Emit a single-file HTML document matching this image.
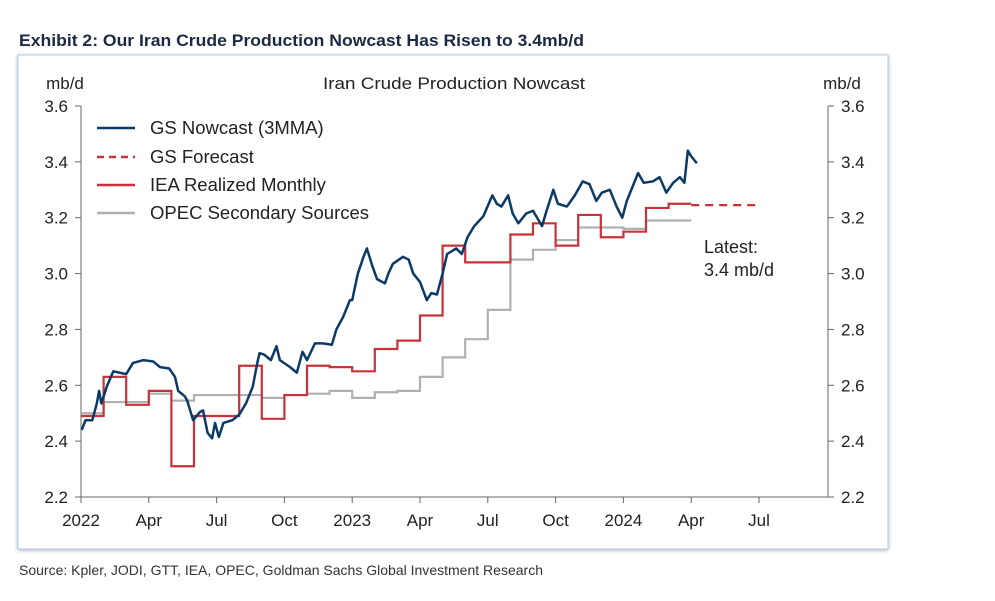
<!DOCTYPE html>
<html><head><meta charset="utf-8"><style>
html,body{margin:0;padding:0;background:#fff;}
svg{display:block;font-family:"Liberation Sans",Arial,sans-serif;}
</style></head><body>
<svg id="chart" width="995" height="601" viewBox="0 0 995 601" xmlns="http://www.w3.org/2000/svg">
<defs><filter id="sh" x="-5%" y="-5%" width="110%" height="110%"><feDropShadow dx="0" dy="1" stdDeviation="2" flood-color="#7f9cbf" flood-opacity="0.7"/></filter></defs>
<text x="19" y="46" font-size="17" font-weight="bold" fill="#1b2a44" textLength="565" lengthAdjust="spacingAndGlyphs">Exhibit 2: Our Iran Crude Production Nowcast Has Risen to 3.4mb/d</text>
<rect x="18" y="55" width="870" height="494" fill="#fff" stroke="#b8c9dc" stroke-width="1" filter="url(#sh)"/>
<text x="323" y="89" font-size="17" fill="#222" textLength="262" lengthAdjust="spacingAndGlyphs">Iran Crude Production Nowcast</text>
<text x="65" y="89" font-size="17" text-anchor="middle" fill="#222">mb/d</text>
<text x="842" y="89" font-size="17" text-anchor="middle" fill="#222">mb/d</text>
<g id="axes"></g>
<g id="series"></g>
<g>
<line x1="97" y1="128" x2="135" y2="128" stroke="#0c3a66" stroke-width="2.5"/>
<text x="150" y="134" font-size="18.5" fill="#222">GS Nowcast (3MMA)</text>
<line x1="97" y1="157" x2="135" y2="157" stroke="#c8323a" stroke-width="2.5" stroke-dasharray="7,5"/>
<text x="150" y="163" font-size="18.5" fill="#222">GS Forecast</text>
<line x1="97" y1="185" x2="135" y2="185" stroke="#c8323a" stroke-width="2.5"/>
<text x="150" y="191" font-size="18.5" fill="#222">IEA Realized Monthly</text>
<line x1="97" y1="213" x2="135" y2="213" stroke="#b0b0b0" stroke-width="2.5"/>
<text x="150" y="219" font-size="18.5" fill="#222">OPEC Secondary Sources</text>
</g>
<text x="704" y="253" font-size="18" fill="#222"><tspan x="704">Latest:</tspan><tspan x="704" dy="23">3.4 mb/d</tspan></text>
<text x="19" y="575" font-size="14" fill="#333" textLength="524" lengthAdjust="spacingAndGlyphs">Source: Kpler, JODI, GTT, IEA, OPEC, Goldman Sachs Global Investment Research</text>
</svg>
<script>
// month index 0 = Jan 2022
const yTicks = [2.2, 2.4, 2.6, 2.8, 3.0, 3.2, 3.4, 3.6];
const xTickMonths = [0, 3, 6, 9, 12, 15, 18, 21, 24, 27, 30];
const xTickLabels = ["2022","Apr","Jul","Oct","2023","Apr","Jul","Oct","2024","Apr","Jul"];
const ieaMonthly = [2.49,2.63,2.53,2.58,2.31,2.49,2.49,2.67,2.48,2.565,2.67,2.665,2.65,2.73,2.76,2.85,3.10,3.04,3.04,3.14,3.18,3.10,3.21,3.13,3.15,3.235,3.25];
const opecMonthly = [2.50,2.54,2.54,2.57,2.545,2.565,2.565,2.565,2.555,2.565,2.57,2.58,2.555,2.575,2.58,2.63,2.70,2.765,2.87,3.05,3.085,3.12,3.165,3.165,3.16,3.19,3.19];
const forecastMonths = [27, 30];
const forecastValues = [3.245, 3.245];
const nowcastMonths = [0.03,0.2,0.5,0.7,0.8,0.9,1.14,1.43,2.0,2.3,2.75,3.2,3.5,3.9,4.16,4.3,4.6,4.7,4.96,5.27,5.4,5.6,5.8,5.93,6.1,6.3,6.7,7.0,7.3,7.6,7.8,7.9,8.1,8.4,8.65,8.8,9.25,9.55,9.8,10.0,10.35,10.7,11.1,11.3,11.6,11.9,12.0,12.25,12.5,12.65,12.9,13.1,13.45,13.6,13.8,14.25,14.5,14.7,15.0,15.3,15.5,15.75,16.0,16.2,16.6,16.85,17.1,17.4,17.8,18.2,18.4,18.6,18.9,19.1,19.35,19.7,20.0,20.4,20.6,20.9,21.1,21.5,21.85,22.2,22.5,22.8,23.05,23.4,23.7,23.95,24.15,24.4,24.65,24.9,25.3,25.6,25.9,26.2,26.5,26.7,26.85,27.0,27.25];
const nowcastValues = [2.44,2.475,2.475,2.535,2.58,2.535,2.595,2.65,2.64,2.68,2.69,2.685,2.665,2.66,2.63,2.58,2.56,2.545,2.475,2.505,2.51,2.43,2.41,2.465,2.415,2.465,2.475,2.495,2.535,2.595,2.68,2.715,2.71,2.69,2.74,2.69,2.665,2.645,2.72,2.69,2.75,2.75,2.745,2.80,2.845,2.905,2.905,3.00,3.06,3.09,3.025,2.98,2.965,3.0,3.035,3.06,3.05,3.0,2.97,2.905,2.93,2.925,3.0,3.07,3.09,3.07,3.13,3.17,3.205,3.28,3.25,3.24,3.28,3.215,3.18,3.215,3.225,3.17,3.225,3.30,3.25,3.24,3.28,3.33,3.32,3.26,3.29,3.30,3.24,3.20,3.26,3.31,3.36,3.325,3.33,3.345,3.29,3.325,3.345,3.325,3.44,3.42,3.395];

const X0 = 81, MW = 22.6, XR = 828, YB = 497, YT = 106, VMIN = 2.2, VMAX = 3.6;
const xs = m => X0 + m * MW;
const ys = v => YB - (v - VMIN) / (VMAX - VMIN) * (YB - YT);
const NS = "http://www.w3.org/2000/svg";
function mk(tag, attrs, parent) {
  const e = document.createElementNS(NS, tag);
  for (const k in attrs) e.setAttribute(k, attrs[k]);
  parent.appendChild(e);
  return e;
}
const axes = document.getElementById('axes');
const series = document.getElementById('series');
let el;
el = mk('line', {x1:X0, y1:YT, x2:X0, y2:YB, stroke:'#666', 'stroke-width':1}, axes);


el = mk('line', {x1:XR, y1:YT, x2:XR, y2:YB, stroke:'#666', 'stroke-width':1}, axes);


el = mk('line', {x1:X0, y1:YB, x2:XR, y2:YB, stroke:'#666', 'stroke-width':1}, axes);


yTicks.forEach(v => {
  const y = ys(v);
  mk('line', {x1:X0-6, y1:y, x2:X0, y2:y, stroke:'#666'}, axes);
  mk('line', {x1:XR, y1:y, x2:XR+6, y2:y, stroke:'#666'}, axes);
  let t = mk('text', {x:X0-13, y:y+6, 'font-size':17, 'text-anchor':'end', fill:'#222'}, axes);
  t.textContent = v.toFixed(1);
  
  
  t = mk('text', {x:XR+13, y:y+6, 'font-size':17, 'text-anchor':'start', fill:'#222'}, axes);
  t.textContent = v.toFixed(1);
  
  
});
xTickMonths.forEach((m, i) => {
  const x = xs(m);
  mk('line', {x1:x, y1:YB, x2:x, y2:YB+6, stroke:'#666'}, axes);
  const t = mk('text', {x:x, y:YB+29, 'font-size':17, 'text-anchor':'middle', fill:'#222'}, axes);
  t.textContent = xTickLabels[i];
  
  
});
function stepPath(vals) {
  let d = '';
  vals.forEach((v, i) => {
    const y = ys(v);
    d += (i === 0 ? 'M' : 'L') + xs(i) + ',' + y + 'L' + xs(i + 1) + ',' + y;
  });
  return d;
}
el = mk('path', {d:stepPath(opecMonthly), fill:'none', stroke:'#b0b0b0', 'stroke-width':2.2}, series);


el = mk('path', {d:stepPath(ieaMonthly), fill:'none', stroke:'#c8323a', 'stroke-width':2.2}, series);


el = mk('path', {d:'M' + xs(forecastMonths[0]) + ',' + ys(forecastValues[0]) + 'L' + xs(forecastMonths[1]) + ',' + ys(forecastValues[1]), fill:'none', stroke:'#c8323a', 'stroke-width':2.2, 'stroke-dasharray':'8,6'}, series);


el = mk('path', {d:nowcastMonths.map((m, i) => (i ? 'L' : 'M') + xs(m) + ',' + ys(nowcastValues[i])).join(''), fill:'none', stroke:'#0c3a66', 'stroke-width':2.5, 'stroke-linejoin':'round'}, series);


</script>
</body></html>
